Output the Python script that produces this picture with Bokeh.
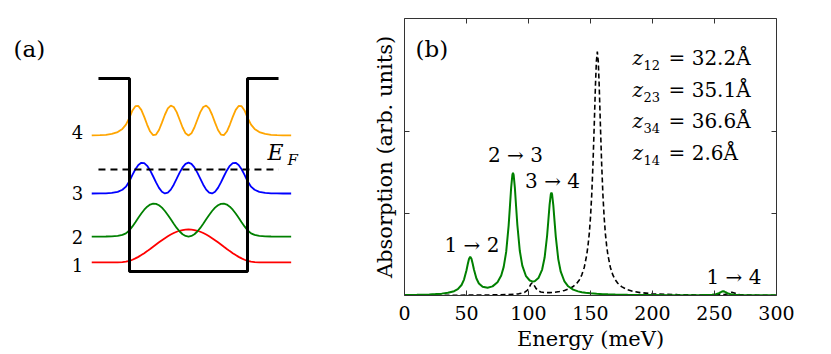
from bokeh.plotting import figure
from bokeh.layouts import row
from bokeh.models import LinearAxis, FixedTicker, Range1d
from bokeh.core.properties import value
from bokeh.embed import file_html
from bokeh.resources import INLINE

# ---------------- Panel (a): quantum well schematic ----------------
# position across the well (well walls at 0 and 1), energy in units of barrier height
well_x = [-0.263, 0.0, 0.0, 1.0, 1.0, 1.263]
well_y = [1.0, 1.0, 0.0, 0.0, 1.0, 1.0]
fermi_level = 0.528
fermi_x = [-0.263, 1.263]

levels = [0.047, 0.181, 0.404, 0.705]
amplitudes = [0.171, 0.171, 0.160, 0.155]
state_labels = ["1", "2", "3", "4"]
state_colors = ["red", "green", "blue", "orange"]

xa = [-0.32, -0.25, -0.2, -0.15, -0.1, -0.06, -0.03,
      0.0, 0.025, 0.05, 0.075, 0.1, 0.125, 0.15, 0.175, 0.2, 0.225, 0.25, 0.275, 0.3, 0.325,
      0.35, 0.375, 0.4, 0.425, 0.45, 0.475, 0.5, 0.525, 0.55, 0.575, 0.6, 0.625, 0.65, 0.675,
      0.7, 0.725, 0.75, 0.775, 0.8, 0.825, 0.85, 0.875, 0.9, 0.925, 0.95, 0.975, 1.0,
      1.03, 1.06, 1.1, 1.15, 1.2, 1.25, 1.3, 1.37]

psi1 = [0.0, 0.0, 0.0004, 0.0013, 0.0044, 0.0114, 0.0234,
        0.048, 0.081, 0.1215, 0.1687, 0.2222, 0.2803, 0.3429, 0.4083, 0.4754, 0.5429, 0.6096,
        0.6742, 0.7357, 0.7929, 0.8447, 0.8903, 0.9289, 0.9596, 0.9819, 0.9955, 1.0, 0.9955,
        0.9819, 0.9596, 0.9289, 0.8903, 0.8447, 0.7929, 0.7357, 0.6742, 0.6096, 0.5429, 0.4754,
        0.4083, 0.3429, 0.2803, 0.2222, 0.1687, 0.1215, 0.081, 0.048,
        0.0234, 0.0114, 0.0044, 0.0013, 0.0004, 0.0, 0.0, 0.0]
psi2 = [0.0002, 0.0007, 0.0022, 0.0068, 0.0206, 0.0502, 0.0977,
        0.1896, 0.3079, 0.4369, 0.5703, 0.6987, 0.8128, 0.9052, 0.9685, 0.9981, 0.9918, 0.9495,
        0.8759, 0.7746, 0.6532, 0.5216, 0.388, 0.2625, 0.1542, 0.0706, 0.018, 0.0, 0.018,
        0.0706, 0.1542, 0.2625, 0.388, 0.5216, 0.6532, 0.7746, 0.8759, 0.9495, 0.9918, 0.9981,
        0.9685, 0.9052, 0.8128, 0.6987, 0.5703, 0.4369, 0.3079, 0.1896,
        0.0977, 0.0502, 0.0206, 0.0068, 0.0022, 0.0007, 0.0002, 0.0]
psi3 = [0.0007, 0.0028, 0.0077, 0.0207, 0.0556, 0.1229, 0.2224,
        0.4029, 0.6029, 0.7864, 0.9242, 0.9943, 0.9853, 0.8975, 0.7481, 0.5593, 0.3605, 0.1834,
        0.0567, 0.0015, 0.026, 0.1265, 0.286, 0.4803, 0.6777, 0.8465, 0.9601, 1.0, 0.9601,
        0.8465, 0.6777, 0.4803, 0.286, 0.1265, 0.026, 0.0015, 0.0567, 0.1834, 0.3605, 0.5593,
        0.7481, 0.8975, 0.9853, 0.9943, 0.9242, 0.7864, 0.6029, 0.4029,
        0.2224, 0.1229, 0.0556, 0.0207, 0.0077, 0.0028, 0.0011, 0.0003]
psi4 = [0.0029, 0.0092, 0.0211, 0.0488, 0.1123, 0.219, 0.362,
        0.5972, 0.8355, 0.9782, 0.9849, 0.8537, 0.6217, 0.3551, 0.1297, 0.0097, 0.0291, 0.1827,
        0.4265, 0.6912, 0.9015, 0.9976, 0.952, 0.7779, 0.5246, 0.2643, 0.0711, 0.0, 0.0711,
        0.2643, 0.5246, 0.7779, 0.952, 0.9976, 0.9015, 0.6912, 0.4265, 0.1827, 0.0291, 0.0097,
        0.1297, 0.3551, 0.6217, 0.8537, 0.9849, 0.9782, 0.8355, 0.5972,
        0.362, 0.219, 0.1123, 0.0488, 0.0211, 0.0092, 0.004, 0.0012]
psis = [psi1, psi2, psi3, psi4]

# ---------------- Panel (b): absorption spectra ----------------
energy_green = [0, 10, 20, 25, 30, 35, 40, 43, 46, 48,
                50, 51, 52, 53, 54, 55, 56, 58, 60, 63,
                67, 71, 75, 78, 80, 82, 84, 85, 86, 87,
                87.5, 88, 89, 90, 91, 93, 95, 98, 101, 103,
                105, 108, 111, 113, 115, 116, 117, 118, 118.5, 119,
                120, 121, 122, 124, 126, 129, 132, 136, 140, 143,
                146, 150, 155, 160, 164, 170, 180, 190, 200, 215,
                230, 240, 245, 248, 251, 253, 255, 256, 257, 258,
                259, 261, 263, 266, 270, 280, 290, 300]
absorption_green = [0.007, 0.0094, 0.0137, 0.0173, 0.0228, 0.0325, 0.0525, 0.077, 0.128, 0.1945,
                    0.3087, 0.3818, 0.4464, 0.474, 0.449, 0.3868, 0.3164, 0.2075, 0.147, 0.1067,
                    0.0953, 0.1116, 0.1614, 0.245, 0.3495, 0.5315, 0.8563, 1.081, 1.3137, 1.4731,
                    1.496, 1.474, 1.3165, 1.0861, 0.863, 0.5425, 0.3654, 0.2353, 0.183, 0.1717,
                    0.175, 0.2125, 0.3168, 0.4628, 0.729, 0.9147, 1.1067, 1.2377, 1.2558, 1.2361,
                    1.1019, 0.9067, 0.7176, 0.4444, 0.2903, 0.171, 0.1124, 0.0721, 0.0506, 0.0405,
                    0.0332, 0.0263, 0.0205, 0.0165, 0.0141, 0.0114, 0.0084, 0.0065, 0.0054, 0.0042,
                    0.0038, 0.0046, 0.0062, 0.0088, 0.0148, 0.0236, 0.0397, 0.0484, 0.0522, 0.0484,
                    0.0397, 0.0236, 0.0148, 0.0088, 0.0053, 0.0029, 0.0021, 0.0017]

energy_dashed = [0, 20, 40, 55, 65, 75, 82, 88, 92, 95,
                 97, 99, 100, 101, 102, 103, 104, 105, 106, 108,
                 110, 113, 117, 121, 125, 129, 133, 136, 139, 141,
                 143, 145, 147, 148, 149, 150, 151, 152, 153, 154,
                 154.75, 155.5, 156.25, 157, 158, 159, 160, 161, 162, 163,
                 164, 166, 168, 170, 172, 175, 180, 185, 190, 200,
                 210, 220, 230, 240, 250, 255, 258, 260, 262, 264,
                 266, 268, 270, 275, 285, 300]
absorption_dashed = [0.0019, 0.0025, 0.0035, 0.0048, 0.0061, 0.0082, 0.0107, 0.0147, 0.0203, 0.0289,
                     0.0405, 0.0637, 0.0838, 0.1112, 0.1409, 0.1554, 0.142, 0.1136, 0.0874, 0.0559,
                     0.0422, 0.0351, 0.0347, 0.0393, 0.0479, 0.0615, 0.0837, 0.1098, 0.1506, 0.19,
                     0.2525, 0.3456, 0.498, 0.611, 0.7543, 0.9568, 1.2326, 1.605, 2.071, 2.569,
                     2.859, 2.975, 2.859, 2.569, 2.071, 1.605, 1.2326, 0.9568, 0.7543, 0.611,
                     0.4973, 0.3449, 0.2516, 0.1909, 0.1496, 0.1086, 0.0697, 0.0484, 0.0355, 0.0214,
                     0.0143, 0.0102, 0.0077, 0.006, 0.0068, 0.0088, 0.0128, 0.019, 0.0302, 0.0388,
                     0.0299, 0.0187, 0.0125, 0.0062, 0.0035, 0.0023]

x_ticks = [0, 50, 100, 150, 200, 250, 300]
y_ticks = [1, 2]
transition_labels = ["1 → 2", "2 → 3", "3 → 4", "1 → 4"]
dipole_subscripts = ["12", "23", "34", "14"]
dipole_values = [32.2, 35.1, 36.6, 2.6]

SERIF = "DejaVu Serif"

# ================= figure (a) =================
pa = figure(width=365, height=354, x_range=Range1d(-1.0932, 2.0), y_range=Range1d(-0.1244, 1.3109),
            output_backend="svg", toolbar_location=None, x_axis_location=None, y_axis_location=None,
            min_border_left=0, min_border_right=0, min_border_top=18, min_border_bottom=59)
pa.grid.visible = False
pa.outline_line_color = None

for lev, amp, psi, col in zip(levels, amplitudes, psis, state_colors):
    pa.line(xa, [lev + amp * v for v in psi], line_color=col, line_width=1.8)

pa.line(well_x, well_y, line_color="black", line_width=3)
pa.line(fermi_x, [fermi_level, fermi_level], line_color="black", line_width=2, line_dash="7 5")

pa.text(x=[-0.44] * 4, y=levels, text=state_labels, text_font=value(SERIF),
        text_font_size=value("18px"), text_align="center", text_baseline="middle",
        y_offset=[3, 0, -1, -3], text_color="black")
pa.text(x=[1.17], y=[fermi_level], text=["E"], text_font=value(SERIF), text_font_style="italic",
        text_font_size=value("22px"), text_align="left", text_baseline="middle",
        y_offset=[-17], text_color="black")
pa.text(x=[1.34], y=[fermi_level], text=["F"], text_font=value(SERIF), text_font_style="italic",
        text_font_size=value("15px"), text_align="left", text_baseline="middle",
        y_offset=[-10], text_color="black")
pa.text(x=[-0.983], y=[1.155], text=["(a)"], text_font=value(SERIF),
        text_font_size=value("23px"), text_align="left", text_baseline="middle", text_color="black")

# ================= figure (b) =================
pb = figure(width=466, height=354, x_range=Range1d(0, 300), y_range=Range1d(0, 3.38),
            output_backend="svg", toolbar_location=None,
            min_border_left=39, min_border_right=55, min_border_top=18, min_border_bottom=59)
pb.grid.visible = False
pb.outline_line_color = None

AX = "#333333"
xa_ax = pb.xaxis[0]
xa_ax.ticker = FixedTicker(ticks=x_ticks)
xa_ax.axis_label = "Energy (meV)"
ya_ax = pb.yaxis[0]
ya_ax.ticker = FixedTicker(ticks=y_ticks)
ya_ax.axis_label = "Absorption (arb. units)"
for ax in (xa_ax, ya_ax):
    ax.major_tick_in = 5
    ax.major_tick_out = 0
    ax.minor_tick_line_color = None
    ax.axis_line_color = AX
    ax.major_tick_line_color = AX
    ax.axis_label_text_font = SERIF
    ax.axis_label_text_font_style = "normal"
    ax.axis_label_text_font_size = "21px"
    ax.axis_label_text_color = "black"
    ax.major_label_text_font = SERIF
    ax.major_label_text_font_size = "19px"
    ax.major_label_text_color = "black"
xa_ax.major_label_standoff = 10
xa_ax.axis_label_standoff = 4
ya_ax.major_label_overrides = {t: "" for t in y_ticks}
ya_ax.major_label_standoff = 0
ya_ax.axis_label_standoff = 8

top_ax = LinearAxis(ticker=FixedTicker(ticks=x_ticks), major_tick_in=5, major_tick_out=0,
                    minor_tick_line_color=None, major_label_overrides={t: "" for t in x_ticks},
                    major_label_standoff=0, axis_line_color=AX, major_tick_line_color=AX)
right_ax = LinearAxis(ticker=FixedTicker(ticks=y_ticks), major_tick_in=5, major_tick_out=0,
                      minor_tick_line_color=None, major_label_overrides={t: "" for t in y_ticks},
                      major_label_standoff=0, axis_line_color=AX, major_tick_line_color=AX)
pb.add_layout(top_ax, "above")
pb.add_layout(right_ax, "right")

pb.line(energy_dashed, absorption_dashed, line_color="black", line_width=1.6, line_dash="5 3")
pb.line(energy_green, absorption_green, line_color="green", line_width=2)

pb.text(x=[54.4, 89.5, 119.4, 265.7], y=[0.62, 1.72, 1.40, 0.23], text=transition_labels,
        text_font=value(SERIF), text_font_size=value("20px"), text_align="center",
        text_baseline="middle", text_color="black")

row_y = [2.90, 2.51, 2.127, 1.74]
pb.text(x=[183.9] * 4, y=row_y, text=["z"] * 4, text_font=value(SERIF), text_font_style="italic",
        text_font_size=value("20px"), text_align="left", text_baseline="middle", text_color="black")
pb.text(x=[183.9] * 4, y=row_y, text=dipole_subscripts, text_font=value(SERIF),
        text_font_size=value("13px"), text_align="left", text_baseline="middle",
        x_offset=11, y_offset=7, text_color="black")
pb.text(x=[183.9] * 4, y=row_y, text=[f"= {v}Å" for v in dipole_values], text_font=value(SERIF),
        text_font_size=value("20px"), text_align="left", text_baseline="middle",
        x_offset=36, text_color="black")
pb.text(x=[0], y=[3.38], text=["(b)"], text_font=value(SERIF), text_font_size=value("23px"),
        text_align="left", text_baseline="middle", x_offset=11, y_offset=30, text_color="black")

layout = row(pa, pb)
open("out.html", "w").write(file_html(layout, INLINE))
